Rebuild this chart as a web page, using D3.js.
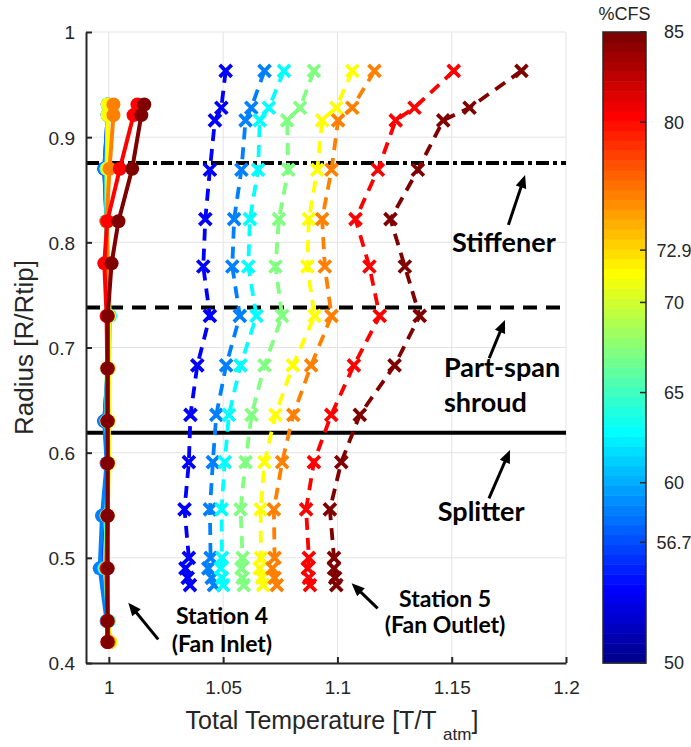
<!DOCTYPE html>
<html><head><meta charset="utf-8">
<script src="https://cdn.jsdelivr.net/npm/d3@7/dist/d3.min.js"></script>
<style>body{margin:0;background:#fff}svg{display:block}</style>
</head><body>
<svg id="chart" width="691" height="747"></svg>
<script>
// ---------- data ----------
const xTicks = [1, 1.05, 1.1, 1.15, 1.2];
const yTicks = [0.4, 0.5, 0.6, 0.7, 0.8, 0.9, 1];
const cbTicks = [50, 56.7, 60, 65, 70, 72.9, 80, 85];
const cbRange = [50, 85];

// Station 4 (fan inlet) radial stations
const r4 = [0.931, 0.921, 0.870, 0.820, 0.780, 0.730, 0.680, 0.630, 0.590, 0.540, 0.490, 0.440, 0.420];
// Station 5 (fan outlet) radial stations
const r5 = [0.963, 0.928, 0.916, 0.869, 0.822, 0.777, 0.730, 0.683, 0.636, 0.591, 0.546, 0.500, 0.490, 0.481, 0.474];

// Station 4 total temperature, one list per operating line (low -> high %CFS)
const st4_1 = [0.9995, 0.9995, 0.998, 0.999, 0.999, 0.9995, 0.9995, 0.998, 0.9995, 0.999, 0.997, 0.9995, 1.0005];
const st4_2 = [0.9995, 0.9995, 0.998, 0.999, 0.999, 0.9995, 0.9995, 0.998, 0.999, 0.997, 0.996, 0.999, 0.9995];
const st4_3 = [0.9995, 0.9995, 0.999, 0.999, 0.9995, 1.0005, 1.0, 0.999, 0.9995, 0.999, 0.998, 1.0, 1.0];
const st4_4 = [0.9995, 0.9995, 0.999, 0.999, 0.999, 1.0, 0.999, 0.999, 0.9995, 0.999, 0.9985, 0.9995, 1.0];
const st4_5 = [0.9995, 0.9995, 0.9995, 0.9995, 0.9995, 1.0, 1.0, 1.0, 1.0, 0.9995, 0.999, 0.9995, 1.0007];
const st4_6 = [1.002, 1.002, 1.0003, 0.999, 0.9995, 0.9995, 0.9995, 0.9995, 0.9995, 0.9995, 0.999, 0.9995, 1.0];
const st4_7 = [1.0125, 1.0108, 1.0048, 0.9993, 0.998, 0.999, 0.9993, 0.9993, 0.9993, 0.9993, 0.999, 0.9993, 0.9993];
const st4_8 = [1.0155, 1.0142, 1.0102, 1.0042, 1.0012, 0.9995, 0.9995, 0.9995, 0.9995, 0.9995, 0.9995, 0.9995, 0.9995];

// Station 5 total temperature
const st5_1 = [1.0511, 1.0492, 1.0464, 1.0442, 1.0422, 1.0413, 1.0442, 1.0387, 1.0357, 1.0350, 1.0331, 1.0350, 1.0335, 1.0345, 1.0355];
const st5_2 = [1.0681, 1.0623, 1.0598, 1.0580, 1.0548, 1.0540, 1.0573, 1.0513, 1.0470, 1.0455, 1.0442, 1.0445, 1.0435, 1.0450, 1.0460];
const st5_3 = [1.0766, 1.0700, 1.0660, 1.0653, 1.0617, 1.0610, 1.0646, 1.0576, 1.0525, 1.0507, 1.0493, 1.0495, 1.0490, 1.0495, 1.0500];
const st5_4 = [1.0897, 1.0836, 1.0780, 1.0785, 1.0744, 1.0729, 1.0758, 1.0681, 1.0624, 1.0598, 1.0576, 1.0585, 1.0580, 1.0585, 1.0590];
const st5_5 = [1.1065, 1.0995, 1.0933, 1.0912, 1.0875, 1.0868, 1.0900, 1.0805, 1.0729, 1.0681, 1.0664, 1.0665, 1.0660, 1.0670, 1.0675];
const st5_6 = [1.1162, 1.1065, 1.1003, 1.0974, 1.0933, 1.0945, 1.0974, 1.0885, 1.0807, 1.0758, 1.0722, 1.0725, 1.0715, 1.0725, 1.0735];
const st5_7 = [1.1509, 1.1337, 1.1255, 1.1177, 1.1079, 1.1140, 1.1185, 1.1072, 1.0973, 1.0897, 1.0863, 1.0875, 1.0870, 1.0875, 1.0880];
const st5_8 = [1.1805, 1.1578, 1.1463, 1.1352, 1.1232, 1.1295, 1.1360, 1.1250, 1.1098, 1.1017, 1.0967, 1.0985, 1.0985, 1.0990, 1.0995];

const station4 = [st4_1, st4_2, st4_3, st4_4, st4_5, st4_6, st4_7, st4_8];
const station5 = [st5_1, st5_2, st5_3, st5_4, st5_5, st5_6, st5_7, st5_8];

// reference hardware lines (radius)
const refNames = ["Stiffener", "Part-span shroud", "Splitter"];
const refRadius = [0.8755, 0.738, 0.619];

// ---------- helpers ----------
function jet(m) { // MATLAB jet(m)
  const n = Math.ceil(m / 4);
  const u = [];
  for (let i = 1; i <= n; i++) u.push(i / n);
  for (let i = 1; i < n; i++) u.push(1);
  for (let i = n; i >= 1; i--) u.push(i / n);
  const off = Math.ceil(n / 2) - (m % 4 === 1 ? 1 : 0);
  const J = Array.from({length: m}, () => [0, 0, 0]);
  u.forEach((v, k) => {
    const g = off + k + 1, r = g + n, b = g - n;
    if (r >= 1 && r <= m) J[r - 1][0] = v;
    if (g >= 1 && g <= m) J[g - 1][1] = v;
    if (b >= 1 && b <= m) J[b - 1][2] = v;
  });
  return J.map(c => d3.rgb(c[0] * 255, c[1] * 255, c[2] * 255).formatHex());
}
const seriesColors = jet(8);
const barColors = jet(64);

// ---------- layout ----------
const svg = d3.select("#chart");
const L = 86, R = 566, T = 32, B = 663;
const x = d3.scaleLinear().domain([0.99, 1.2]).range([L, R]);
const y = d3.scaleLinear().domain([0.4, 1]).range([B, T]);
const axisColor = "#262626";
const tickFont = "'Liberation Sans', Arial, sans-serif";

// grid
const grid = svg.append("g").attr("stroke", "#e3e3e3").attr("stroke-width", 1);
grid.selectAll("line.v").data(xTicks).join("line")
  .attr("x1", d => x(d)).attr("x2", d => x(d)).attr("y1", T).attr("y2", B);
grid.selectAll("line.h").data(yTicks).join("line")
  .attr("y1", d => y(d)).attr("y2", d => y(d)).attr("x1", L).attr("x2", R);

// reference lines
const refDash = ["13,4,4,4", "14,9", null];
svg.append("g").selectAll("line").data(refRadius).join("line")
  .attr("x1", L).attr("x2", R).attr("y1", d => y(d)).attr("y2", d => y(d))
  .attr("stroke", "#000").attr("stroke-width", 4)
  .attr("stroke-dasharray", (d, i) => refDash[i]);

// station 5 dashed lines + crosses
const s5 = svg.append("g");
station5.forEach((vals, si) => {
  const pts = vals.map((v, i) => [v, r5[i]]);
  s5.append("path").datum(pts)
    .attr("d", d3.line().x(d => x(d[0])).y(d => y(d[1])))
    .attr("fill", "none").attr("stroke", seriesColors[si])
    .attr("stroke-width", 3.8).attr("stroke-dasharray", "12,8");
  const k = 6;
  s5.append("g").selectAll("path").data(pts).join("path")
    .attr("d", d => { const cx = x(d[0]), cy = y(d[1]);
      return `M${cx-k},${cy-k}L${cx+k},${cy+k}M${cx-k},${cy+k}L${cx+k},${cy-k}`; })
    .attr("stroke", seriesColors[si]).attr("stroke-width", 3.8).attr("fill", "none");
});

// station 4 solid lines + circles
const s4 = svg.append("g");
station4.forEach((vals, si) => {
  const pts = vals.map((v, i) => [v, r4[i]]);
  s4.append("path").datum(pts)
    .attr("d", d3.line().x(d => x(d[0])).y(d => y(d[1])))
    .attr("fill", "none").attr("stroke", seriesColors[si]).attr("stroke-width", 4);
  s4.append("g").selectAll("circle").data(pts).join("circle")
    .attr("cx", d => x(d[0])).attr("cy", d => y(d[1])).attr("r", 7)
    .attr("fill", seriesColors[si]);
});

// axes
const fmt = d => String(+d.toFixed(2));
const gx = svg.append("g").attr("transform", `translate(0,${B})`)
  .call(d3.axisBottom(x).tickValues(xTicks).tickFormat(fmt).tickSizeInner(-6).tickSizeOuter(0).tickPadding(18));
const gy = svg.append("g").attr("transform", `translate(${L},0)`)
  .call(d3.axisLeft(y).tickValues(yTicks).tickFormat(fmt).tickSizeInner(-6).tickSizeOuter(0).tickPadding(11));
[gx, gy].forEach(g => {
  g.select(".domain").attr("stroke", axisColor).attr("stroke-width", 2);
  g.selectAll(".tick line").attr("stroke", axisColor).attr("stroke-width", 2);
  g.selectAll(".tick text").attr("fill", axisColor).style("font-family", tickFont).style("font-size", "19px");
});
gy.selectAll(".tick text").attr("dy", "0.36em");

// axis labels
svg.append("text").attr("transform", `translate(33,${(T + B) / 2}) rotate(-90)`)
  .attr("text-anchor", "middle").attr("fill", axisColor)
  .style("font-family", tickFont).style("font-size", "26px").text("Radius [R/Rtip]");
const xl = svg.append("text").attr("x", (L + R) / 2 + 6).attr("y", 729)
  .attr("text-anchor", "middle").attr("fill", axisColor)
  .style("font-family", tickFont).style("font-size", "25px");
xl.append("tspan").text("Total Temperature [T/T ");
xl.append("tspan").attr("dy", 11).style("font-size", "17px").text("atm");
xl.append("tspan").attr("dy", -11).text("]");

// colorbar
const CBL = 603, CBR = 646;
const cy = d3.scaleLinear().domain(cbRange).range([B, T]);
const step = (cbRange[1] - cbRange[0]) / barColors.length;
svg.append("g").selectAll("rect").data(barColors).join("rect")
  .attr("x", CBL).attr("width", CBR - CBL)
  .attr("y", (d, i) => cy(cbRange[0] + (i + 1) * step))
  .attr("height", (d, i) => cy(cbRange[0] + i * step) - cy(cbRange[0] + (i + 1) * step) + 0.5)
  .attr("fill", d => d);
svg.append("rect").attr("x", CBL).attr("y", T).attr("width", CBR - CBL).attr("height", B - T)
  .attr("fill", "none").attr("stroke", axisColor).attr("stroke-width", 1.5);
svg.append("g").selectAll("line").data(cbTicks).join("line")
  .attr("x1", CBR - 6).attr("x2", CBR).attr("y1", d => cy(d)).attr("y2", d => cy(d))
  .attr("stroke", axisColor).attr("stroke-width", 1.5);
svg.append("g").selectAll("text").data(cbTicks).join("text")
  .attr("x", 674).attr("y", d => cy(d)).attr("dy", "0.36em").attr("text-anchor", "middle")
  .attr("fill", axisColor).style("font-family", tickFont).style("font-size", "18px")
  .text(d => String(d));
svg.append("text").attr("x", (CBL + CBR) / 2).attr("y", 20).attr("text-anchor", "middle")
  .attr("fill", axisColor).style("font-family", tickFont).style("font-size", "18px").text("%CFS");

// annotations (data coordinates)
const annFont = "Lato, 'Open Sans', sans-serif";
const notes = [
  {t: "Stiffener", x: 1.1501, y: 0.7909, a: "start", s: 27},
  {t: "Part-span", x: 1.1466, y: 0.6723, a: "start", s: 27},
  {t: "shroud", x: 1.1466, y: 0.6390, a: "start", s: 27},
  {t: "Splitter", x: 1.1439, y: 0.5353, a: "start", s: 27},
  {t: "Station 4", x: 1.0495, y: 0.4371, a: "middle", s: 23},
  {t: "(Fan Inlet)", x: 1.0495, y: 0.4109, a: "middle", s: 23},
  {t: "Station 5", x: 1.1471, y: 0.4535, a: "middle", s: 23},
  {t: "(Fan Outlet)", x: 1.1471, y: 0.4281, a: "middle", s: 23}
];
svg.append("g").selectAll("text").data(notes).join("text")
  .attr("x", d => x(d.x)).attr("y", d => y(d.y)).attr("text-anchor", d => d.a)
  .attr("fill", "#000").style("font-family", annFont).style("font-weight", "bold")
  .style("font-size", d => d.s + "px").text(d => d.t);

const arrows = [
  {x0: 1.1748, y0: 0.8166, x1: 1.1821, y1: 0.8641},
  {x0: 1.1664, y0: 0.6898, x1: 1.1733, y1: 0.7262},
  {x0: 1.1663, y0: 0.5566, x1: 1.1755, y1: 0.6026},
  {x0: 1.1176, y0: 0.4520, x1: 1.1062, y1: 0.4758},
  {x0: 1.0216, y0: 0.4225, x1: 1.0085, y1: 0.4573}
];
const ag = svg.append("g");
arrows.forEach(a => {
  const X0 = x(a.x0), Y0 = y(a.y0), X1 = x(a.x1), Y1 = y(a.y1);
  const dx = X1 - X0, dy = Y1 - Y0, len = Math.hypot(dx, dy);
  const ux = dx / len, uy = dy / len, hl = 13, hw = 5.5;
  const bx = X1 - ux * hl, by = Y1 - uy * hl;
  ag.append("line").attr("x1", X0).attr("y1", Y0).attr("x2", bx + ux * 2).attr("y2", by + uy * 2)
    .attr("stroke", "#000").attr("stroke-width", 3);
  ag.append("path")
    .attr("d", `M${X1},${Y1}L${bx - uy * hw},${by + ux * hw}L${bx + uy * hw},${by - ux * hw}Z`)
    .attr("fill", "#000");
});
</script>
</body></html>
